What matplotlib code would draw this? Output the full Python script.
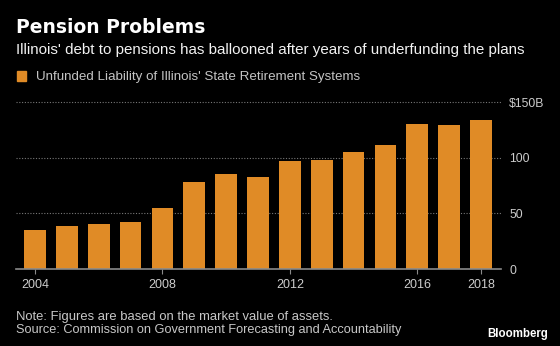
import matplotlib
matplotlib.use("Agg")
import matplotlib.pyplot as plt
from matplotlib.patches import Rectangle

years = list(range(2004, 2019))
liability = [34.8, 38.7, 40.8, 42.6, 54.6, 78.0, 85.5, 83.1, 96.9, 97.8, 105.0, 111.3, 130.2, 129.3, 133.8]
xtick_years = [2004, 2008, 2012, 2016, 2018]
yticks = [0, 50, 100, 150]
ytick_labels = ["0", "50", "100", "$150B"]

title = "Pension Problems"
subtitle = "Illinois' debt to pensions has ballooned after years of underfunding the plans"
legend_label = "Unfunded Liability of Illinois' State Retirement Systems"
note = "Note: Figures are based on the market value of assets."
source = "Source: Commission on Government Forecasting and Accountability"

BAR = "#e08b26"
BG = "black"
FONT = ["Liberation Sans", "DejaVu Sans"]

W, H = 560, 346
fig = plt.figure(figsize=(W / 100, H / 100), dpi=100, facecolor=BG)

left, right = 15.7 / W, 500.7 / W
bottom, top = 1 - 269 / H, 1 - 102.3 / H
ax = fig.add_axes([left, bottom, right - left, top - bottom], facecolor=BG)

ax.bar(years, liability, width=0.68, color=BAR, zorder=3)
ax.set_xlim(2003.394, 2018.62)
ax.set_ylim(0, 150)

for s in ["top", "left", "right"]:
    ax.spines[s].set_visible(False)
ax.spines["bottom"].set_color("#8a8a8a")
ax.spines["bottom"].set_linewidth(1.2)
ax.spines["bottom"].set_zorder(4)

ax.set_xticks(xtick_years)
ax.set_xticklabels([str(y) for y in xtick_years])
ax.tick_params(axis="x", colors="#8a8a8a", length=3.5, width=0.8, pad=4,
               labelcolor="#cccccc", labelsize=9)
ax.yaxis.tick_right()
ax.set_yticks(yticks)
ax.set_yticklabels(ytick_labels)
ax.tick_params(axis="y", length=0, pad=6, labelcolor="#cccccc", labelsize=8.8)
for lab in ax.get_xticklabels() + ax.get_yticklabels():
    lab.set_family(FONT)

for v in yticks[1:]:
    ax.axhline(v, color="#777777", lw=0.8, ls=(0, (1, 1.5)), zorder=1, clip_on=False)

fig.text(16.5 / W, 1 - 33.3 / H, title, color="white", fontsize=13.5,
         fontweight="bold", family="DejaVu Sans", va="baseline", ha="left")
fig.text(16 / W, 1 - 54.3 / H, subtitle, color="#f2f2f2", fontsize=10.9,
         family=FONT, va="baseline", ha="left")
fig.patches.append(Rectangle((16.7 / W, 1 - 80.7 / H), 9.5 / W, 10 / H,
                             transform=fig.transFigure, color=BAR, figure=fig))
fig.text(36 / W, 1 - 80 / H, legend_label, color="#c4c4c4", fontsize=9.6,
         family=FONT, va="baseline", ha="left")
fig.text(16 / W, 1 - 320 / H, note, color="#c8c8c8", fontsize=9.4,
         family=FONT, va="baseline", ha="left")
fig.text(16 / W, 1 - 333.3 / H, source, color="#c8c8c8", fontsize=9.2,
         family=FONT, va="baseline", ha="left")
fig.text(547.7 / W, 1 - 336.7 / H, "Bloomberg", color="white", fontsize=8.3,
         fontweight="bold", family=FONT, va="baseline", ha="right")

fig.savefig("out.png", dpi=100, facecolor=BG)
